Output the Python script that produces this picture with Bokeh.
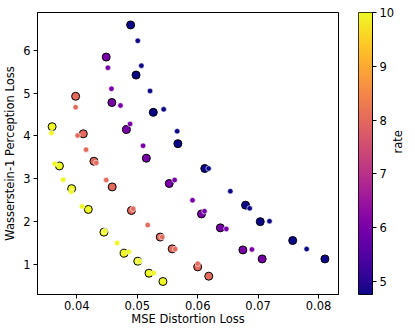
import math
import numpy as np
from bokeh.plotting import figure
from bokeh.layouts import row
from bokeh.models import ColumnDataSource, LinearColorMapper, FixedTicker
from bokeh.palettes import Plasma256
from bokeh.transform import transform
from bokeh.embed import file_html
from bokeh.resources import INLINE

# rate values per group
rates = [4.76, 6.0, 8.0, 10.0]
rate_low, rate_high = 4.76, 10.0

# large points (black edge), one list per rate
large_x = [
    [0.0489, 0.0498, 0.05265, 0.05672, 0.06117, 0.06792, 0.07035, 0.07572, 0.08105],
    [0.04486, 0.0458, 0.04821, 0.0515, 0.05529, 0.06063, 0.06375, 0.06748, 0.07067],
    [0.0398, 0.04107, 0.04283, 0.04585, 0.04903, 0.0538, 0.05578, 0.0600, 0.06183],
    [0.03591, 0.03712, 0.03914, 0.0419, 0.04448, 0.04783, 0.05008, 0.05194, 0.05425],
]
large_y = [
    [6.59, 5.42, 4.55, 3.82, 3.24, 2.385, 2.00, 1.56, 1.13],
    [5.84, 4.78, 4.15, 3.48, 2.89, 2.18, 1.855, 1.34, 1.13],
    [4.925, 4.05, 3.41, 2.81, 2.26, 1.64, 1.365, 0.944, 0.727],
    [4.215, 3.30, 2.77, 2.285, 1.755, 1.264, 1.077, 0.797, 0.603],
]
# small points (white edge)
small_x = [
    [0.05008, 0.05068, 0.05211, 0.05437, 0.0566, 0.0618, 0.0654, 0.0686, 0.07188, 0.07803],
    [0.04514, 0.04573, 0.04722, 0.04881, 0.05096, 0.05618, 0.05914, 0.06112, 0.06474, 0.06897],
    [0.0398, 0.04013, 0.04152, 0.04321, 0.04486, 0.04931, 0.05173, 0.05413, 0.05628, 0.0600],
    [0.0358, 0.03634, 0.03773, 0.03905, 0.04086, 0.04465, 0.04667, 0.0486, 0.05035, 0.05272],
]
small_y = [
    [6.22, 5.64, 5.05, 4.62, 4.11, 3.24, 2.71, 2.31, 2.01, 1.36],
    [5.59, 5.10, 4.71, 4.28, 3.77, 2.97, 2.50, 2.245, 1.83, 1.35],
    [4.67, 4.01, 3.68, 3.37, 2.97, 2.30, 1.92, 1.64, 1.36, 1.02],
    [4.07, 3.35, 2.98, 2.70, 2.355, 1.78, 1.50, 1.295, 1.077, 0.80],
]
x_ticks = [0.04, 0.05, 0.06, 0.07, 0.08]
y_ticks = [1, 2, 3, 4, 5, 6]
cbar_ticks = [5, 6, 7, 8, 9, 10]


def flat(gx_list, gy_list):
    xs, ys, rs = [], [], []
    for gx, gy, r in zip(gx_list, gy_list, rates):
        xs += gx
        ys += gy
        rs += [r] * len(gx)
    return dict(x=xs, y=ys, rate=rs)


src_large = ColumnDataSource(flat(large_x, large_y))
src_small = ColumnDataSource(flat(small_x, small_y))

FONT = "DejaVu Sans"
FS = "11.5px"

mapper = LinearColorMapper(palette=Plasma256, low=rate_low, high=rate_high)

p = figure(width=339, height=333, output_backend="svg", toolbar_location=None,
           x_range=(0.03349, 0.0833), y_range=(0.30, 6.88),
           min_border_left=36, min_border_right=1, min_border_top=12, min_border_bottom=39)
p.grid.visible = False
p.outline_line_color = "black"
p.outline_line_width = 1
p.background_fill_color = "white"
p.border_fill_color = "white"

p.scatter("x", "y", source=src_large, size=8, fill_color=transform("rate", mapper),
          line_color="black", line_width=1)
p.scatter("x", "y", source=src_small, size=5.5, fill_color=transform("rate", mapper),
          line_color="white", line_width=0.6)


def style_axis(ax):
    ax.major_tick_in = 0
    ax.major_tick_out = 4
    ax.minor_tick_line_color = None
    ax.axis_line_color = "black"
    ax.major_tick_line_color = "black"
    ax.major_label_text_font = FONT
    ax.major_label_text_font_size = FS
    ax.major_label_text_color = "black"
    ax.axis_label_text_font = FONT
    ax.axis_label_text_font_size = FS
    ax.axis_label_text_font_style = "normal"
    ax.axis_label_text_color = "black"


style_axis(p.xaxis[0])
style_axis(p.yaxis[0])
p.xaxis.major_label_standoff = 2
p.xaxis.axis_label_standoff = -1
p.yaxis.major_label_standoff = 3
p.yaxis.axis_label_standoff = 3
p.xaxis.ticker = FixedTicker(ticks=x_ticks)
p.yaxis.ticker = FixedTicker(ticks=y_ticks)
p.xaxis.axis_label = "MSE Distortion Loss"
p.yaxis.axis_label = "Wasserstein-1 Perception Loss"

# colour bar as its own small figure
cb = figure(width=76, height=333, output_backend="svg", toolbar_location=None,
            x_range=(0, 1), y_range=(rate_low, rate_high),
            x_axis_location=None, y_axis_location="right",
            min_border_left=19, min_border_right=43, min_border_top=12, min_border_bottom=39)
cb.grid.visible = False
cb.outline_line_color = "black"
cb.outline_line_width = 1
cb.border_fill_color = "white"
grad = np.linspace(rate_low, rate_high, 256).reshape(256, 1)
cb.image(image=[grad], x=0, y=rate_low, dw=1, dh=rate_high - rate_low, color_mapper=mapper)
style_axis(cb.yaxis[0])
cb.yaxis.ticker = FixedTicker(ticks=cbar_ticks)
cb.yaxis.major_label_standoff = 3
cb.yaxis.axis_label_standoff = 1
cb.yaxis.axis_label = "rate"
cb.yaxis.axis_label_orientation = math.pi / 2

layout = row(p, cb)
open("out.html", "w").write(file_html(layout, INLINE))
